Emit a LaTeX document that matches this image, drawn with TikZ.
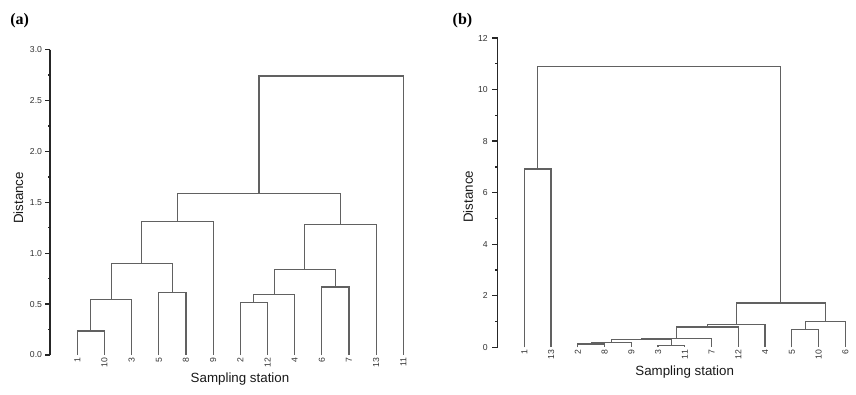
\documentclass[tikz,border=0pt]{standalone}
\usepackage{fontspec}
\setmainfont{Liberation Sans}
\newfontfamily\serifbold{Liberation Serif}
\tikzset{
  tree/.style={draw=black!62, line width=0.85pt},
  axisline/.style={draw=black!85, line width=1pt},
  leaflbl/.style={rotate=90, anchor=east, inner sep=0pt, font=\fontsize{6.5}{7.5}\selectfont, text=black!80},
  ticklbl/.style={anchor=east, inner sep=0pt, font=\fontsize{6.5}{7.5}\selectfont, text=black!80},
  axtitle/.style={inner sep=0pt, font=\fontsize{10}{12}\selectfont, text=black!90},
  panellbl/.style={inner sep=0pt, font=\serifbold\bfseries\fontsize{12}{14}\selectfont}
}
\begin{document}
\begin{tikzpicture}[x=0.75pt,y=-0.75pt]
\useasboundingbox (0,0) rectangle (856,394);
\fill[white] (0,0) rectangle (856,394);

% ---------------- panel (a) ----------------
\node[panellbl] (pa) at (19.7,20.5) {(a)};
\coordinate (aTop) at (50,49.6);
\coordinate (aBot) at (50,355);
\draw[axisline] (aTop) -- (aBot);
\foreach \v [count=\k] in {0.0,0.5,1.0,1.5,2.0,2.5,3.0} {
  \pgfmathsetmacro{\yy}{355-101.8*\v}
  \draw[axisline] (50,\yy) -- (45,\yy);
  \node[ticklbl] (ta\k) at (42.3,\yy) {\v};
}
\foreach \v in {0.25,0.75,1.25,1.75,2.25,2.75} {
  \pgfmathsetmacro{\yy}{355-101.8*\v}
  \draw[axisline] (50,\yy) -- (47.5,\yy);
}
\node[axtitle, rotate=90] (dista) at (18.3,198) {Distance};
\node[axtitle] (sampa) at (240,379.5) {Sampling station};

\foreach \lab [count=\i from 0] in {1,10,3,5,8,9,2,12,4,6,7,13,11} {
  \pgfmathsetmacro{\xx}{77.3+27.17*\i}
  \coordinate (a\lab) at (\xx,355);
  \node[leaflbl] (al\lab) at (\xx,357.5) {\lab};
}
\coordinate (am1) at (90.9,331);
\coordinate (am2) at (111.25,299.3);
\coordinate (am3) at (172.4,292.7);
\coordinate (am4) at (141.8,263.7);
\coordinate (am5) at (177.5,221.3);
\coordinate (am6) at (253.9,302.7);
\coordinate (am7) at (274.3,294.3);
\coordinate (am8) at (335.4,287);
\coordinate (am9) at (304.85,269.3);
\coordinate (am10) at (340.5,224.3);
\coordinate (am11) at (259,193.3);
\coordinate (am12) at (331.2,76);
\draw[tree] (a1) |- (am1) -| (a10);
\draw[tree] (am1) |- (am2) -| (a3);
\draw[tree] (a5) |- (am3) -| (a8);
\draw[tree] (am2) |- (am4) -| (am3);
\draw[tree] (am4) |- (am5) -| (a9);
\draw[tree] (a2) |- (am6) -| (a12);
\draw[tree] (am6) |- (am7) -| (a4);
\draw[tree] (a6) |- (am8) -| (a7);
\draw[tree] (am7) |- (am9) -| (am8);
\draw[tree] (am9) |- (am10) -| (a13);
\draw[tree] (am5) |- (am11) -| (am10);
\draw[tree] (am11) |- (am12) -| (a11);

% ---------------- panel (b) ----------------
\node[panellbl] (pb) at (462.5,20.8) {(b)};
\coordinate (bTop) at (497.5,38);
\coordinate (bBot) at (497.5,347.3);
\draw[axisline] (bTop) -- (bBot);
\foreach \v [count=\k] in {0,2,4,6,8,10,12} {
  \pgfmathsetmacro{\yy}{347.3-25.775*\v}
  \draw[axisline] (497.5,\yy) -- (492,\yy);
  \node[ticklbl] (tb\k) at (488,\yy) {\v};
}
\foreach \v in {1,3,5,7,9,11} {
  \pgfmathsetmacro{\yy}{347.3-25.775*\v}
  \draw[axisline] (497.5,\yy) -- (494.8,\yy);
}
\node[axtitle, rotate=90] (distb) at (468,196.7) {Distance};
\node[axtitle] (sampb) at (684.7,372) {Sampling station};

\foreach \lab [count=\i from 0] in {1,13,2,8,9,3,11,7,12,4,5,10,6} {
  \pgfmathsetmacro{\xx}{524.3+26.75*\i}
  \coordinate (b\lab) at (\xx,347.3);
  \node[leaflbl] (bl\lab) at (\xx,349.8) {\lab};
}
\coordinate (bm1) at (537.7,169);
\coordinate (bm2) at (591.2,344);
\coordinate (bm3) at (611.25,342.2);
\coordinate (bm4) at (671.4,345.2);
\coordinate (bm5) at (641.3,339.6);
\coordinate (bm6) at (676.4,338.3);
\coordinate (bm7) at (707.35,327);
\coordinate (bm8) at (736.2,324.5);
\coordinate (bm9) at (805.2,329.3);
\coordinate (bm10) at (825.25,321.3);
\coordinate (bm11) at (780.7,303);
\coordinate (bm12) at (659.2,66.3);
\draw[tree] (b1) |- (bm1) -| (b13);
\draw[tree] (b2) |- (bm2) -| (b8);
\draw[tree] (bm2) |- (bm3) -| (b9);
\draw[tree] (b3) |- (bm4) -| (b11);
\draw[tree] (bm3) |- (bm5) -| (bm4);
\draw[tree] (bm5) |- (bm6) -| (b7);
\draw[tree] (bm6) |- (bm7) -| (b12);
\draw[tree] (bm7) |- (bm8) -| (b4);
\draw[tree] (b5) |- (bm9) -| (b10);
\draw[tree] (bm9) |- (bm10) -| (b6);
\draw[tree] (bm8) |- (bm11) -| (bm10);
\draw[tree] (bm1) |- (bm12) -| (bm11);
\end{tikzpicture}
\end{document}
